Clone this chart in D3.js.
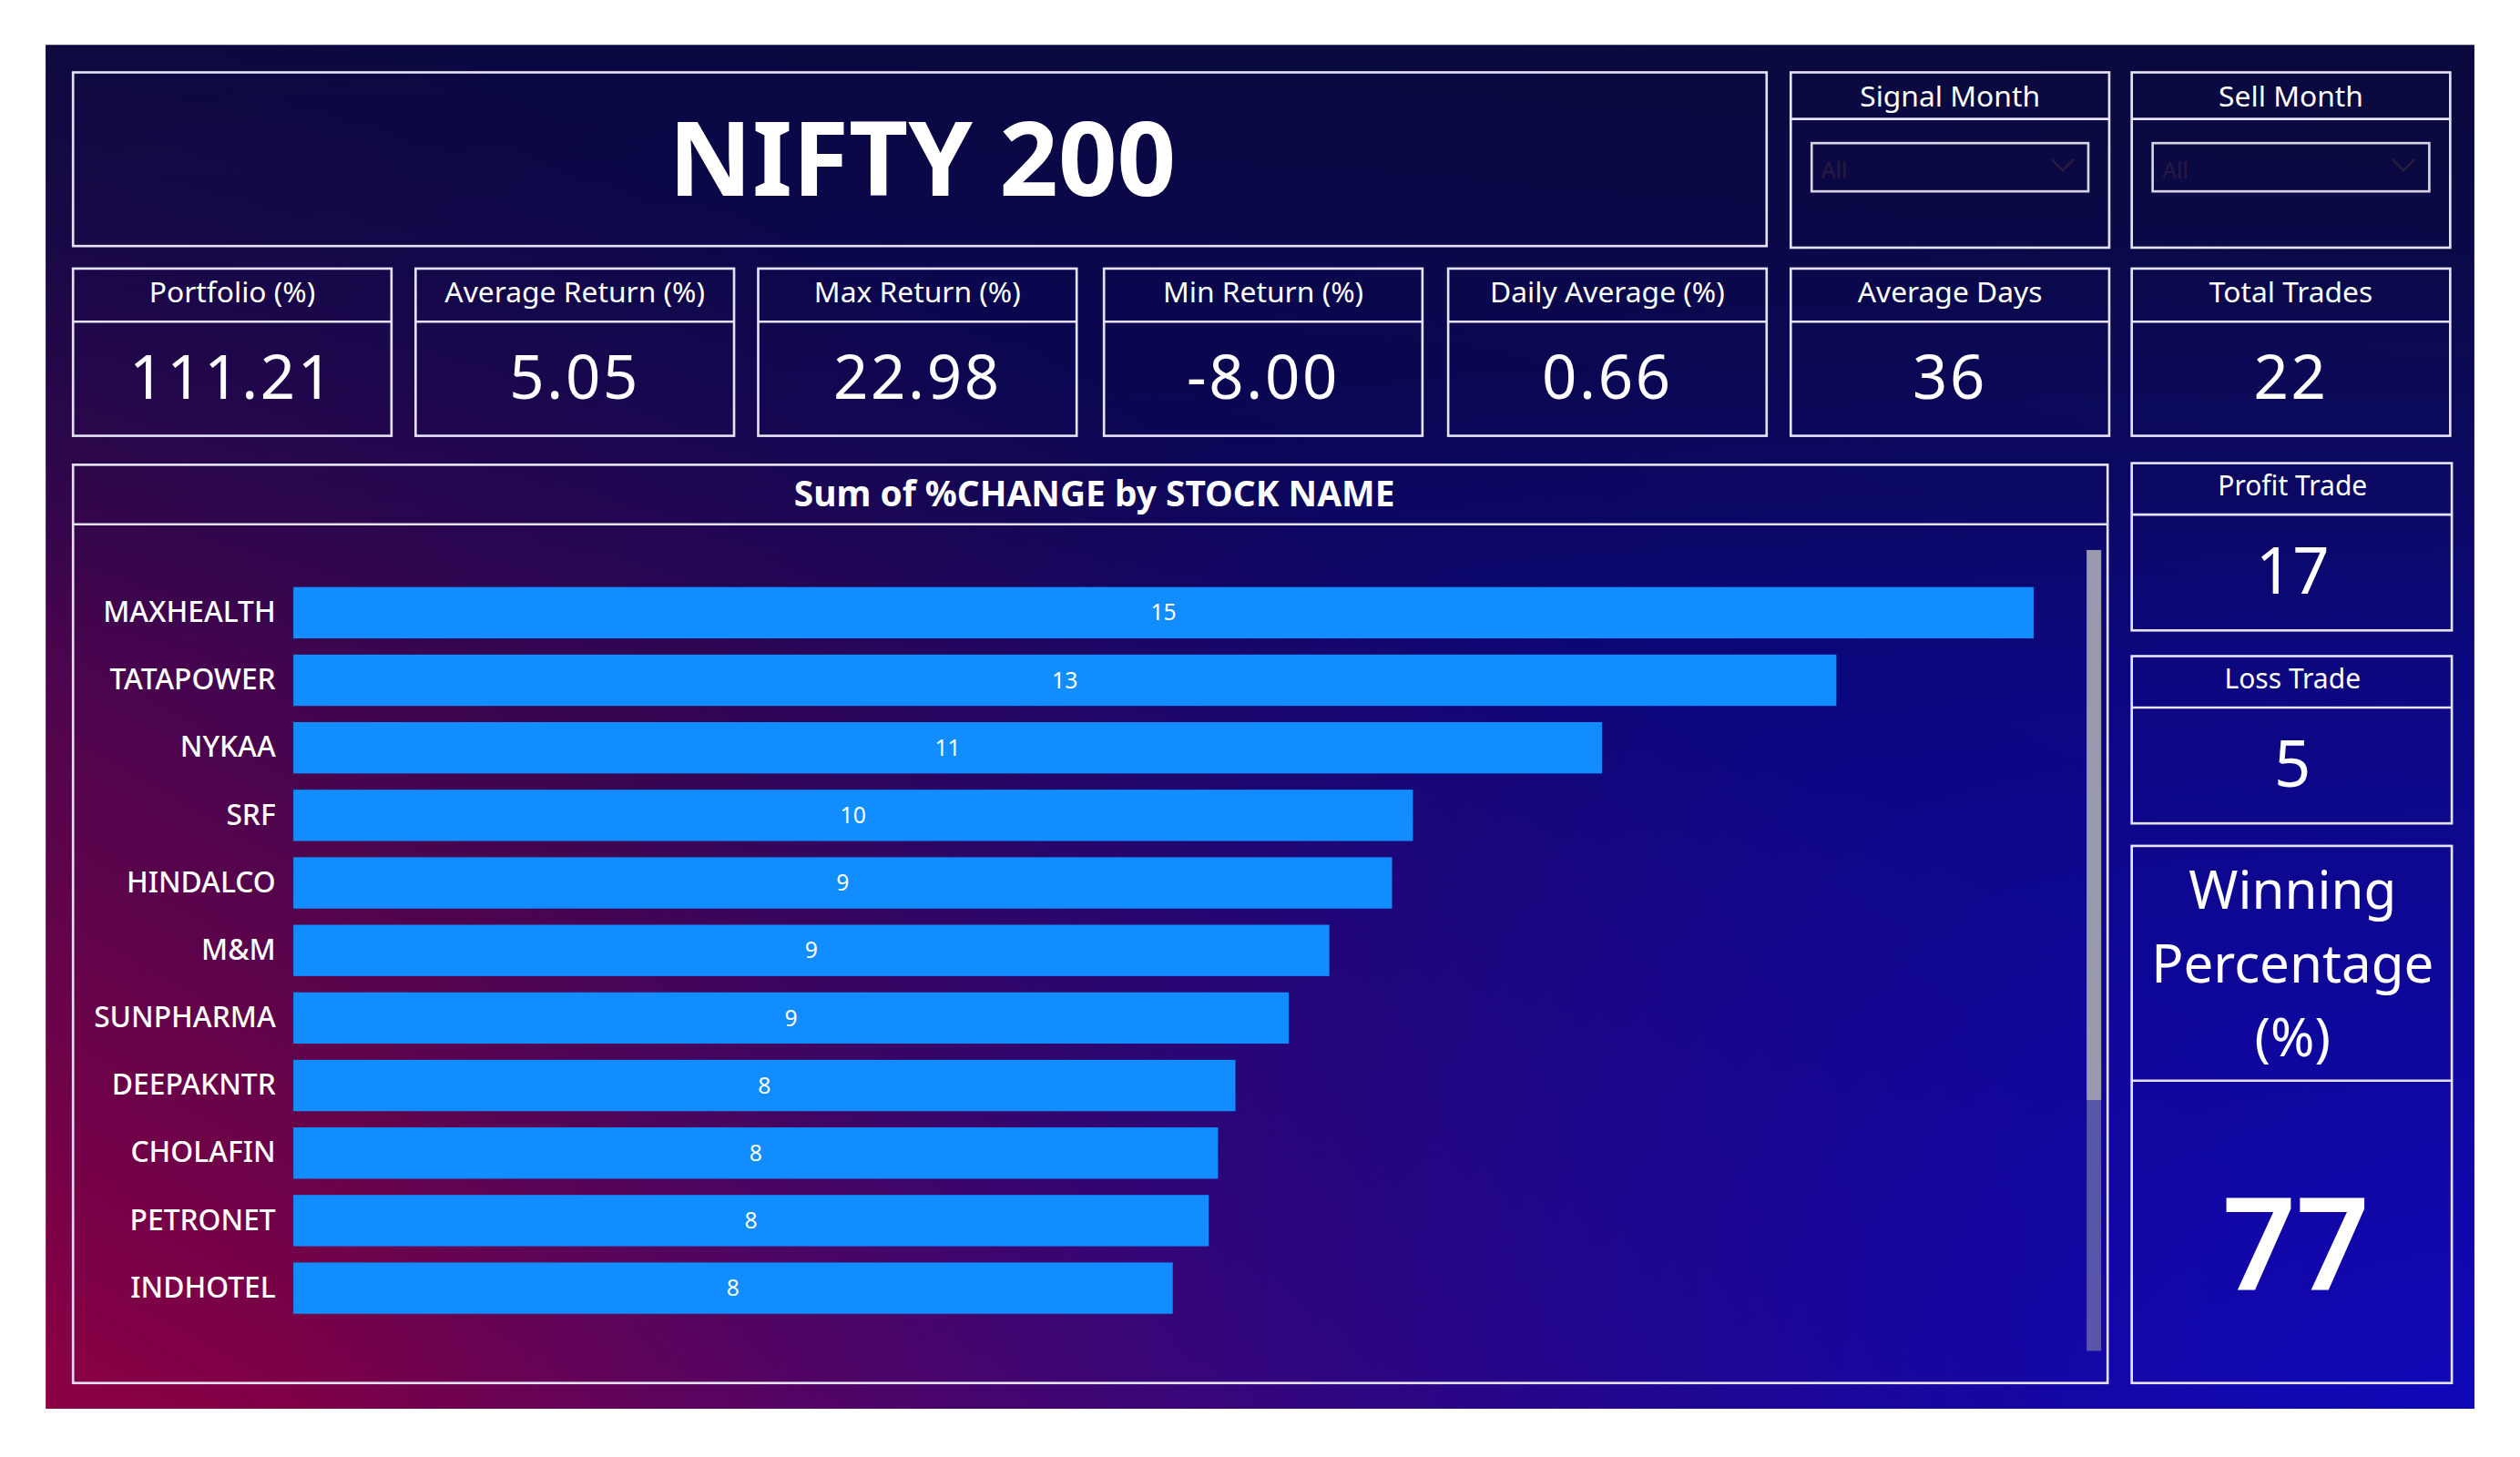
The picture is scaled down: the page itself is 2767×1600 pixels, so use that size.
<!DOCTYPE html>
<html>
<head>
<meta charset="utf-8">
<script src="https://cdn.jsdelivr.net/npm/d3@7"></script>
<style>
  body { margin: 0; background: #fff; font-family: "Noto Sans", "Open Sans", sans-serif; }
</style>
</head>
<body>
<svg id="dash"></svg>
<script>
  // data
  let stocks = ["MAXHEALTH", "TATAPOWER", "NYKAA", "SRF", "HINDALCO", "M&M", "SUNPHARMA", "DEEPAKNTR", "CHOLAFIN", "PETRONET", "INDHOTEL"]
  let changes = [15.0, 13.3, 11.28, 9.65, 9.47, 8.93, 8.58, 8.12, 7.97, 7.89, 7.58]
  let kpiNames = ["Portfolio (%)", "Average Return (%)", "Max Return (%)", "Min Return (%)", "Daily Average (%)", "Average Days", "Total Trades"]
  let kpiValues = ["111.21", "5.05", "22.98", "-8.00", "0.66", "36", "22"]
  let slicers = ["Signal Month", "Sell Month"]
  let tradeNames = ["Profit Trade", "Loss Trade"]
  let tradeValues = ["17", "5"]
  let winning = "77"

  let svg = d3.select("#dash")
    .attr("width", 2767).attr("height", 1600)
    .attr("viewBox", "0 0 1566 906")

  let defs = svg.append("defs")
  let lg = defs.append("linearGradient").attr("id", "bg")
    .attr("x1", "0").attr("y1", "1").attr("x2", "1").attr("y2", "0")
  lg.append("stop").attr("offset", "0").attr("stop-color", "#8c0044")
  lg.append("stop").attr("offset", "0.35").attr("stop-color", "#3a0550")
  lg.append("stop").attr("offset", "0.6").attr("stop-color", "#0a0560")
  lg.append("stop").attr("offset", "1").attr("stop-color", "#0a0a50")
  let rg = defs.append("radialGradient").attr("id", "blue")
    .attr("cx", "1").attr("cy", "1").attr("r", "0.9")
  rg.append("stop").attr("offset", "0").attr("stop-color", "#1008b8").attr("stop-opacity", 1)
  rg.append("stop").attr("offset", "1").attr("stop-color", "#1008b8").attr("stop-opacity", 0)
  let tg = defs.append("linearGradient").attr("id", "top")
    .attr("x1", "0").attr("y1", "0").attr("x2", "0").attr("y2", "1")
  tg.append("stop").attr("offset", "0").attr("stop-color", "#0a0a3a").attr("stop-opacity", 0.8)
  tg.append("stop").attr("offset", "0.45").attr("stop-color", "#0a0a3a").attr("stop-opacity", 0)

  svg.append("rect").attr("x", 28).attr("y", 28).attr("width", 1510).attr("height", 848).attr("fill", "url(#bg)")
  svg.append("rect").attr("x", 28).attr("y", 28).attr("width", 1510).attr("height", 848).attr("fill", "url(#blue)")
  svg.append("rect").attr("x", 28).attr("y", 28).attr("width", 1510).attr("height", 848).attr("fill", "url(#top)")

  let stroke = "#e4e2f4"
  function box(x, y, w, h, headerH) {
    svg.append("rect").attr("x", x).attr("y", y).attr("width", w).attr("height", h)
      .attr("fill", "none").attr("stroke", stroke).attr("stroke-width", 1.5)
    if (headerH) svg.append("line").attr("x1", x).attr("x2", x + w).attr("y1", y + headerH).attr("y2", y + headerH)
      .attr("stroke", stroke).attr("stroke-width", 1.5)
  }
  function text(x, y, s, size, weight) {
    return svg.append("text").attr("x", x).attr("y", y).attr("text-anchor", "middle")
      .attr("fill", "#fff").attr("font-size", size).attr("font-weight", weight || 400).text(s)
  }

  // title
  box(45, 45, 1053, 108)
  text(573, 122, "NIFTY 200", 64, 700)

  // slicers
  let slicerX = [1113, 1325]
  slicers.forEach((s, i) => {
    let x = slicerX[i]
    box(x, 45, 198, 109, 29)
    text(x + 99, 66, s, 18)
    svg.append("rect").attr("x", x + 13).attr("y", 89).attr("width", 172).attr("height", 30)
      .attr("fill", "none").attr("stroke", "#d8d4e4").attr("stroke-width", 1.5)
    svg.append("text").attr("x", x + 19).attr("y", 111).attr("fill", "#2a1a40").attr("font-size", 14).text("All")
    svg.append("path").attr("d", `M${x + 162},${99} l7,7 l7,-7`).attr("fill", "none").attr("stroke", "#2a1a40").attr("stroke-width", 1.5)
  })

  // KPI cards
  let kpiX = [45, 258, 471, 686, 900, 1113, 1325]
  kpiNames.forEach((n, i) => {
    let x = kpiX[i]
    box(x, 167, 198, 104, 33)
    text(x + 99, 188, n, 18)
    text(x + 99, 248, kpiValues[i], 38).attr("letter-spacing", 1.5)
  })

  // trade cards
  let tradeY = [288, 408]
  tradeNames.forEach((n, i) => {
    let y = tradeY[i]
    box(1325, y, 199, 104, 32)
    text(1425, y + 20, n, 17)
    text(1425, y + 81, tradeValues[i], 40)
  })
  box(1325, 526, 199, 334, 146)
  text(1425, 565, "Winning", 33)
  text(1425, 611, "Percentage", 33)
  text(1425, 657, "(%)", 33)
  text(1427, 802, winning, 80, 600)

  // bar chart
  box(45, 289, 1265, 571, 37)
  text(680, 315, "Sum of %CHANGE by STOCK NAME", 22, 700)

  let xScale = d3.scaleLinear().domain([0, 15]).range([182, 1264])
  let yScale = d3.scaleBand().domain(stocks).range([360, 822]).paddingInner(0.24).paddingOuter(0.12)

  let g = svg.append("g")
  g.selectAll("rect.bar").data(stocks).enter().append("rect")
    .attr("class", "bar")
    .attr("x", xScale(0))
    .attr("y", d => yScale(d))
    .attr("width", (d, i) => xScale(changes[i]) - xScale(0))
    .attr("height", yScale.bandwidth())
    .attr("fill", "#118dff")
  g.selectAll("text.val").data(stocks).enter().append("text")
    .attr("class", "val")
    .attr("x", (d, i) => (xScale(0) + xScale(changes[i])) / 2)
    .attr("y", d => yScale(d) + yScale.bandwidth() / 2)
    .attr("dy", "0.35em").attr("text-anchor", "middle")
    .attr("fill", "#fff").attr("font-size", 14)
    .text((d, i) => Math.round(changes[i]))

  let axisY = d3.axisLeft(yScale).tickSize(0).tickPadding(11)
  let ay = svg.append("g").attr("transform", `translate(182,0)`).call(axisY)
  ay.select(".domain").remove()
  ay.selectAll("text").attr("fill", "#fff").attr("font-size", 18).attr("font-weight", 500)
    .attr("font-family", "'Noto Sans', sans-serif")

  // scrollbar
  svg.append("rect").attr("x", 1297).attr("y", 342).attr("width", 9).attr("height", 498).attr("fill", "#6a6aa8").attr("opacity", 0.8)
  svg.append("rect").attr("x", 1297).attr("y", 342).attr("width", 9).attr("height", 342).attr("fill", "#9a9aae")
</script>
</body>
</html>
